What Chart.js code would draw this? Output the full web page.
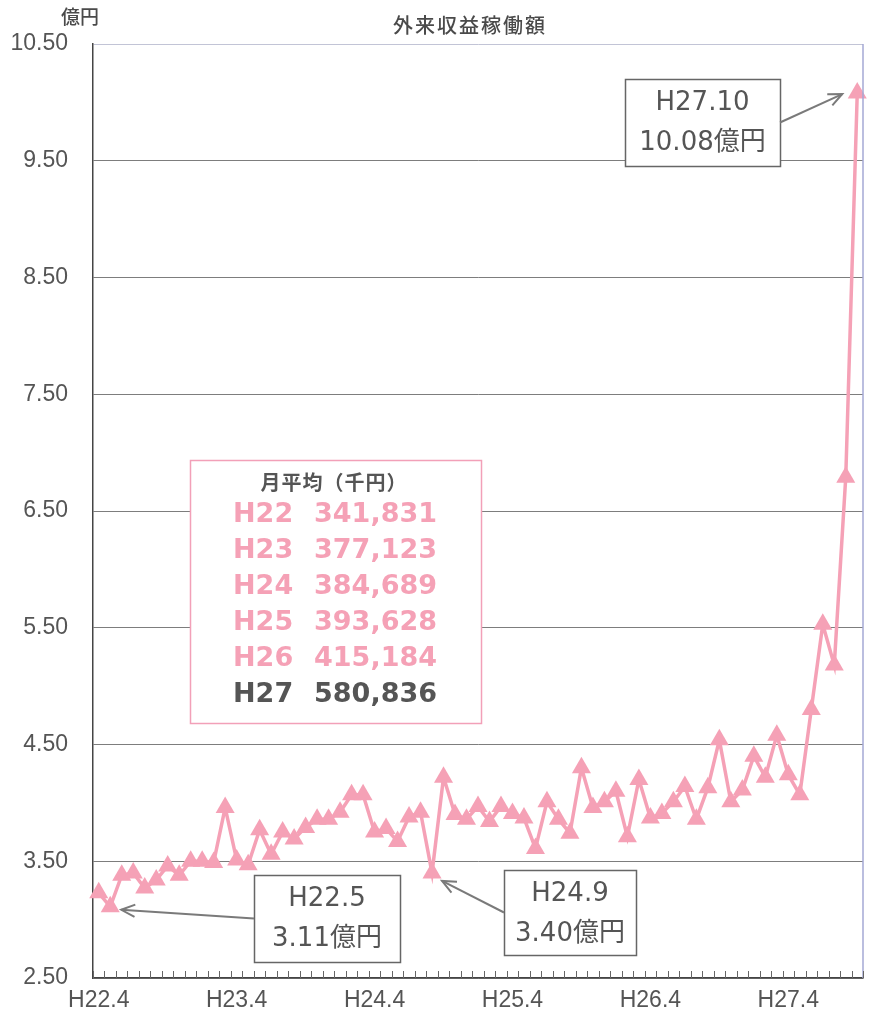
<!DOCTYPE html>
<html><head><meta charset="utf-8">
<script src="https://cdn.jsdelivr.net/npm/chart.js@4/dist/chart.umd.min.js"></script>
<style>html,body{margin:0;padding:0;background:#fff;}#wrap{width:874px;height:1018px;}</style>
</head><body><div id="wrap"><canvas id="c" width="874" height="1018"></canvas></div>
<script>
const categories = [
 "H22.4","H22.5","H22.6","H22.7","H22.8","H22.9","H22.10","H22.11","H22.12","H23.1","H23.2","H23.3",
 "H23.4","H23.5","H23.6","H23.7","H23.8","H23.9","H23.10","H23.11","H23.12","H24.1","H24.2","H24.3",
 "H24.4","H24.5","H24.6","H24.7","H24.8","H24.9","H24.10","H24.11","H24.12","H25.1","H25.2","H25.3",
 "H25.4","H25.5","H25.6","H25.7","H25.8","H25.9","H25.10","H25.11","H25.12","H26.1","H26.2","H26.3",
 "H26.4","H26.5","H26.6","H26.7","H26.8","H26.9","H26.10","H26.11","H26.12","H27.1","H27.2","H27.3",
 "H27.4","H27.5","H27.6","H27.7","H27.8","H27.9","H27.10"
];
const values = [
 3.23,3.11,3.38,3.40,3.27,3.34,3.46,3.38,3.50,3.50,3.49,3.96,
 3.51,3.47,3.77,3.56,3.75,3.69,3.79,3.86,3.86,3.92,4.07,4.07,
 3.75,3.78,3.67,3.88,3.92,3.40,4.22,3.90,3.86,3.97,3.84,3.97,
 3.91,3.87,3.61,4.01,3.86,3.74,4.30,3.96,4.01,4.10,3.71,4.20,
 3.87,3.91,4.01,4.14,3.86,4.13,4.54,4.01,4.11,4.40,4.22,4.58,
 4.24,4.07,4.80,5.53,5.18,6.79,10.08
];
const yMin = 2.5, yMax = 10.5, yStep = 1;
const titleText = "外来収益稼働額";
const unitText = "億円";
const avgHeader = "月平均（千円）";
const avgYears = ["H22","H23","H24","H25","H26","H27"];
const avgValues = ["341,831","377,123","384,689","393,628","415,184","580,836"];
const calloutIndex = [66, 1, 29];
const calloutLine1 = ["H27.10","H22.5","H24.9"];
const calloutLine2 = ["10.08億円","3.11億円","3.40億円"];

const PINK = '#f5a1b6';
const TEXT = '#555';
const AXISFONT = "'Liberation Sans Narrow','Arial Narrow','Liberation Sans',sans-serif";

function arrow(ctx, x1, y1, x2, y2) {
  ctx.save();
  ctx.strokeStyle = '#7a7a7a'; ctx.lineWidth = 2;
  ctx.beginPath(); ctx.moveTo(x1, y1); ctx.lineTo(x2, y2); ctx.stroke();
  const a = Math.atan2(y2 - y1, x2 - x1), L = 15, sp = 0.42;
  ctx.beginPath();
  ctx.moveTo(x2 - L * Math.cos(a - sp), y2 - L * Math.sin(a - sp));
  ctx.lineTo(x2, y2);
  ctx.lineTo(x2 - L * Math.cos(a + sp), y2 - L * Math.sin(a + sp));
  ctx.stroke();
  ctx.restore();
}

const decor = {
  id: 'decor',
  beforeDraw(chart) {
    const ctx = chart.ctx;
    ctx.save(); ctx.fillStyle = '#fff'; ctx.fillRect(0, 0, chart.width, chart.height); ctx.restore();
  },
  afterDraw(chart) {
    const ctx = chart.ctx, ca = chart.chartArea;
    const meta = chart.getDatasetMeta(0);
    ctx.save();
    ctx.strokeStyle = '#a4a8d4'; ctx.lineWidth = 1.5;
    ctx.beginPath(); ctx.moveTo(ca.right, ca.top); ctx.lineTo(ca.right, ca.bottom); ctx.stroke();
    const n = categories.length, w = (ca.right - ca.left) / n;
    ctx.strokeStyle = '#666'; ctx.lineWidth = 1;
    for (let i = 0; i <= n; i++) {
      const x = Math.round(ca.left + i * w) + 0.5;
      ctx.beginPath(); ctx.moveTo(x, ca.bottom); ctx.lineTo(x, ca.bottom - 7); ctx.stroke();
    }
    ctx.fillStyle = '#4a4a4a'; ctx.textBaseline = 'middle';
    ctx.font = "500 20px 'Noto Sans CJK JP'";
    ctx.textAlign = 'center';
    ctx.letterSpacing = '2px';
    ctx.fillText(titleText, 470, 25);
    ctx.letterSpacing = '0px';
    ctx.font = "500 19px 'Noto Sans CJK JP'";
    ctx.textAlign = 'left';
    ctx.fillText(unitText, 61, 17);

    ctx.fillStyle = '#fff';
    ctx.fillRect(190, 460, 291, 263);
    ctx.strokeStyle = '#f2a0b8'; ctx.lineWidth = 1.5;
    ctx.strokeRect(190.5, 460.5, 291, 263);
    ctx.fillStyle = TEXT;
    ctx.font = "bold 20px 'Noto Sans CJK JP'";
    ctx.textAlign = 'center';
    ctx.letterSpacing = '1px';
    ctx.fillText(avgHeader, 334, 482);
    ctx.letterSpacing = '0px';
    ctx.font = "bold 27px 'DejaVu Sans'";
    for (let i = 0; i < avgYears.length; i++) {
      const y = 515 + i * 36;
      ctx.fillStyle = i === avgYears.length - 1 ? TEXT : PINK;
      ctx.textAlign = 'left'; ctx.fillText(avgYears[i], 233, y);
      ctx.textAlign = 'right'; ctx.fillText(avgValues[i], 437, y);
    }

    const boxes = [
      {x: 625, y: 79, w: 155, h: 87, tip: [-15, 1], from: 'right'},
      {x: 254, y: 875, w: 146, h: 87, tip: [11, 3], from: 'left'},
      {x: 504, y: 870, w: 132, h: 85, tip: [10, 8], from: 'left'}
    ];
    boxes.forEach((b, k) => {
      const pt = meta.data[calloutIndex[k]];
      ctx.fillStyle = '#fff';
      ctx.fillRect(b.x, b.y, b.w, b.h);
      ctx.strokeStyle = '#666'; ctx.lineWidth = 1.5;
      ctx.strokeRect(b.x + 0.5, b.y + 0.5, b.w, b.h);
      ctx.fillStyle = TEXT;
      ctx.font = "26px 'DejaVu Sans','Noto Sans CJK JP'";
      ctx.textAlign = 'center';
      const cx = b.x + b.w / 2;
      ctx.fillText(calloutLine1[k], cx, b.y + 24);
      ctx.fillText(calloutLine2[k], cx, b.y + 64);
      const sx = b.from === 'right' ? b.x + b.w : b.x;
      const sy = b.y + b.h / 2;
      arrow(ctx, sx, sy, pt.x + b.tip[0], pt.y + b.tip[1]);
    });
    ctx.restore();
  }
};

new Chart(document.getElementById('c'), {
  type: 'line',
  data: {
    labels: categories,
    datasets: [{
      data: values,
      borderColor: PINK,
      backgroundColor: PINK,
      borderWidth: 3.5,
      pointStyle: 'triangle',
      pointRadius: 11,
      pointBorderWidth: 0,
      pointBackgroundColor: PINK,
      tension: 0
    }]
  },
  options: {
    responsive: false,
    animation: false,
    devicePixelRatio: 1,
    layout: {padding: {left: 0, right: 8, top: 44, bottom: 0}},
    plugins: {legend: {display: false}, tooltip: {enabled: false}, title: {display: false}},
    scales: {
      x: {
        type: 'category',
        offset: true,
        grid: {display: false, drawTicks: false},
        border: {display: true, color: '#444', width: 1.5},
        ticks: {
          autoSkip: false, maxRotation: 0, minRotation: 0, padding: 9,
          color: TEXT, font: {family: AXISFONT, size: 23},
          callback: function (v, i) { return i % 12 === 0 ? this.getLabelForValue(v) : ''; }
        },
        afterFit(s) { s.height = 40; }
      },
      y: {
        min: yMin, max: yMax,
        grid: {
          drawTicks: false,
          color: (c) => (c.tick && c.tick.value === yMax) ? '#c2c4d6' : '#7d7d7d',
          lineWidth: 1
        },
        border: {display: true, color: '#444', width: 1.5},
        ticks: {
          stepSize: yStep, padding: 25, color: TEXT,
          font: {family: AXISFONT, size: 23},
          callback: (v) => Number(v).toFixed(2)
        },
        afterFit(s) { s.width = 93; }
      }
    }
  },
  plugins: [decor]
});
</script>
</body></html>
